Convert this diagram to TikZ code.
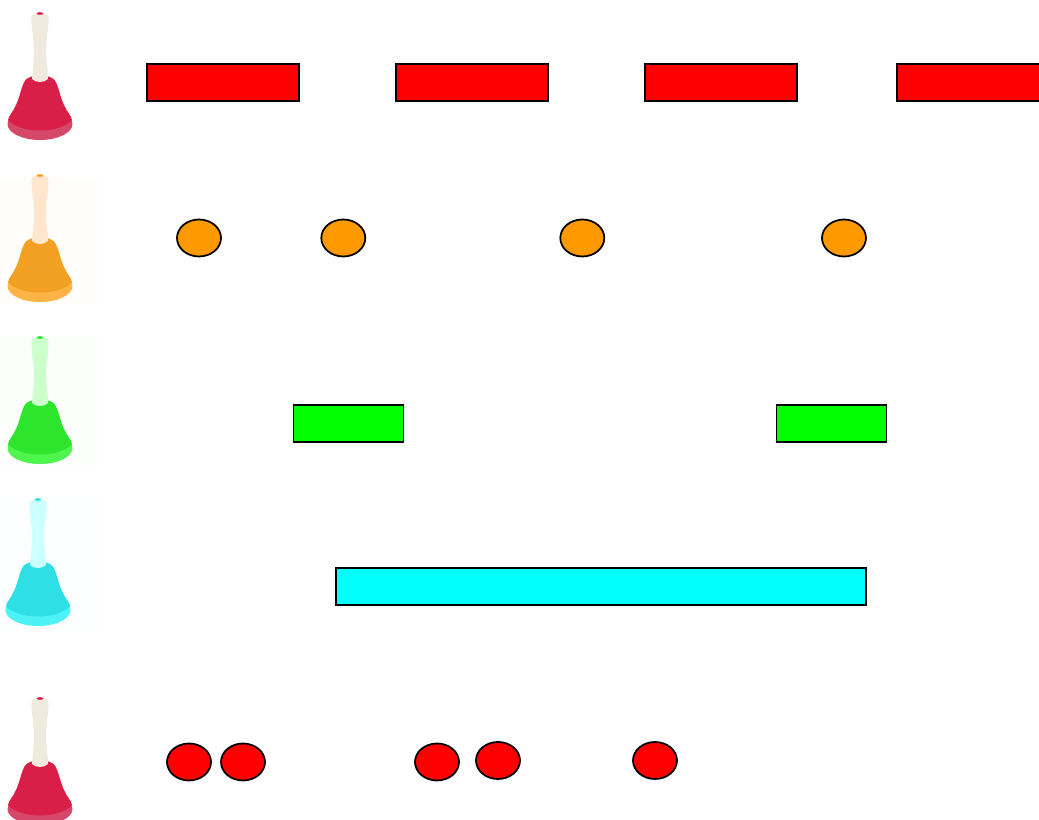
\documentclass[tikz,border=0pt]{standalone}
\usepackage{tikz}
\usetikzlibrary{shapes.geometric}
\definecolor{bellred}{HTML}{D91E48}
\definecolor{bellredlip}{HTML}{D5486A}
\definecolor{handlered}{HTML}{EFE9DE}
\definecolor{bellorange}{HTML}{F2A024}
\definecolor{bellorangelip}{HTML}{FBB445}
\definecolor{handleorange}{HTML}{FFE6CC}
\definecolor{bellgreen}{HTML}{2EE52E}
\definecolor{bellgreenlip}{HTML}{4DF54D}
\definecolor{handlegreen}{HTML}{CCFFCC}
\definecolor{bellcyan}{HTML}{2EE0E6}
\definecolor{bellcyanlip}{HTML}{4DF2F7}
\definecolor{handlecyan}{HTML}{CCFFFF}
\definecolor{barred}{RGB}{255,0,0}
\definecolor{barorange}{HTML}{FF9900}
\definecolor{bargreen}{RGB}{0,255,0}
\definecolor{barcyan}{RGB}{0,255,255}
\tikzset{
  bar/.style={draw=black,fill=#1,line width=1pt,minimum height=0.74cm,inner sep=0pt},
  beat/.style={ellipse,draw=black,fill=#1,line width=1pt,minimum width=0.88cm,
    minimum height=0.74cm,inner sep=0pt},
  pics/bell/.style n args={3}{code={
    \fill[#2] (0,112) ellipse (32.5 and 16);
    \fill[#1] (-14.5,68) .. controls (-19,74) and (-20,86) .. (-25,95)
      .. controls (-27,100) and (-31,103) .. (-32,108)
      .. controls (-20,122) and (20,122) .. (32,108)
      .. controls (31,103) and (27,100) .. (25,95)
      .. controls (20,86) and (19,74) .. (14.5,68)
      .. controls (10,62) and (-10,62) .. (-14.5,68) -- cycle;
    \fill[#3] (-8.5,5) .. controls (-8,0) and (8,0) .. (8.5,5)
      .. controls (9,16) and (6,26) .. (6,38) .. controls (6,50) and (8,58) .. (8,67)
      .. controls (4,71) and (-4,71) .. (-8,67)
      .. controls (-7,56) and (-6,48) .. (-6,38) .. controls (-6,26) and (-9,16) .. (-8.5,5) -- cycle;
    \fill[#1] (0,1.5) ellipse (3.5 and 1.3);
  }},
}
\begin{document}
\begin{tikzpicture}[x=0.02cm,y=-0.02cm]
  \useasboundingbox (0,0) rectangle (1039,820);
  % bells down the left side
  \fill[orange!1] (0,178) rectangle (103,304);
  \fill[green!1] (0,335) rectangle (103,466);
  \fill[cyan!1] (0,497) rectangle (103,628);
  \pic at (40,12) {bell={bellred}{bellredlip}{handlered}};
  \pic at (40,174) {bell={bellorange}{bellorangelip}{handleorange}};
  \pic at (40,336) {bell={bellgreen}{bellgreenlip}{handlegreen}};
  \pic at (38,498) {bell={bellcyan}{bellcyanlip}{handlecyan}};
  \pic at (40,697) {bell={bellred}{bellredlip}{handlered}};

  % first row
  \foreach \j/\x in {1/223,2/472,3/721} \node[bar=barred,minimum width=3.04cm] (r\j) at (\x,82.5) {};
  \node[bar=barred,minimum width=3.04cm] (r4) at (973,82.5) {};

  % second row
  \foreach \j/\x in {1/199,2/343.3,3/582.3,4/844} \node[beat=barorange] (o\j) at (\x,238) {};

  % third row
  \foreach \j/\x in {1/348.5,2/831.6} \node[bar=bargreen,minimum width=2.2cm] (g\j) at (\x,423.7) {};

  % fourth row
  \node[bar=barcyan,minimum width=10.6cm] (c1) at (601,586.5) {};

  % last row
  \foreach \j/\x/\y in {1/189/762,2/243/762,3/437/762,4/498/760.5,5/655/760.5} \node[beat=barred] (e\j) at (\x,\y) {};
\end{tikzpicture}
\end{document}
